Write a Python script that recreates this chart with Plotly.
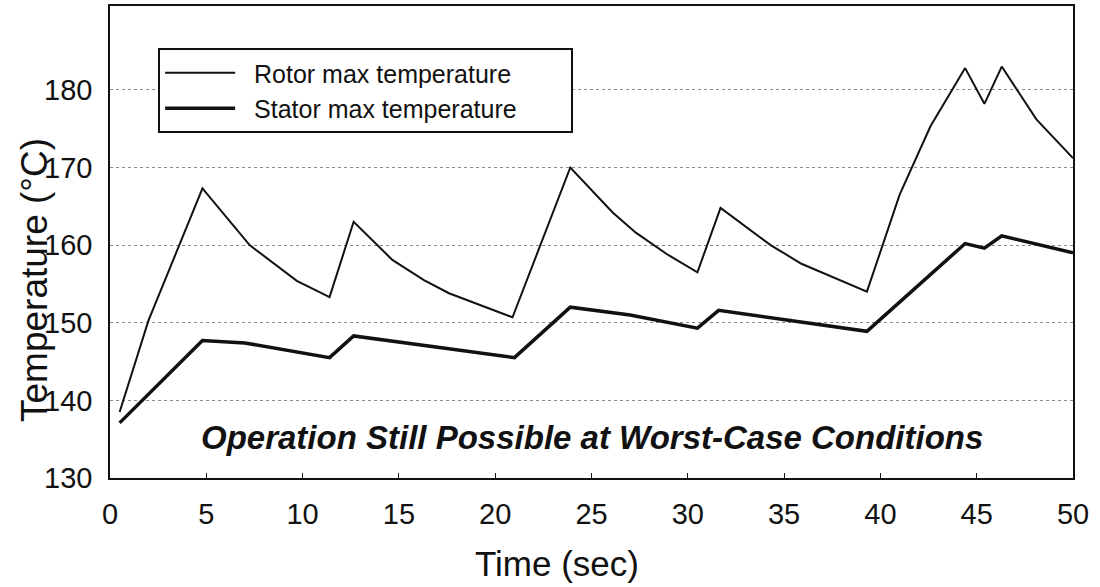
import plotly.graph_objects as go

FONT = "Liberation Sans, Arial, sans-serif"
INK = "#111111"
GRID = "#8a8a8a"
NB = "\u00a0"

# rotor max temperature (thin line)
rotor_t = [0.5, 2.0, 4.8, 7.25, 9.7, 11.4, 12.65, 14.66, 16.3, 17.6, 20.9, 23.9,
           26.1, 27.3, 29.0, 30.5, 31.7, 34.3, 35.9, 37.7, 39.3, 41.0, 42.6,
           44.4, 45.4, 46.3, 48.1, 50.0]
rotor_temp = [138.5, 150.3, 167.3, 160.0, 155.4, 153.3, 163.0, 158.1, 155.5, 153.8,
              150.7, 170.0, 164.2, 161.6, 158.7, 156.5, 164.8, 160.0, 157.6, 155.7,
              154.0, 166.5, 175.3, 182.8, 178.2, 183.0, 176.2, 171.2]

# stator max temperature (thick line)
stator_t = [0.5, 4.8, 7.0, 11.4, 12.65, 21.0, 23.9, 27.0, 30.5, 31.6, 39.3,
            44.4, 45.4, 46.3, 50.0]
stator_temp = [137.1, 147.7, 147.4, 145.5, 148.3, 145.5, 152.0, 151.0, 149.3,
               151.6, 148.9, 160.2, 159.6, 161.2, 159.0]

x_ticks = [0, 5, 10, 15, 20, 25, 30, 35, 40, 45, 50]
y_ticks = [130, 140, 150, 160, 170, 180]

fig = go.Figure()
fig.add_trace(go.Scatter(
    x=rotor_t, y=rotor_temp, mode="lines",
    name=NB * 2 + "Rotor max temperature",
    line=dict(color=INK, width=2),
))
fig.add_trace(go.Scatter(
    x=stator_t, y=stator_temp, mode="lines",
    name=NB * 2 + "Stator max temperature" + NB * 7,
    line=dict(color=INK, width=3.5),
))

fig.update_layout(
    width=1100, height=587,
    paper_bgcolor="white", plot_bgcolor="white",
    font=dict(family=FONT, color=INK),
    margin=dict(l=110, r=27, t=6, b=109),
    showlegend=True,
    legend=dict(
        x=0.05, y=0.911, xanchor="left", yanchor="top",
        bgcolor="white", bordercolor=INK, borderwidth=2,
        font=dict(size=25, family=FONT, color=INK),
        itemwidth=70, tracegroupgap=0,
    ),
    annotations=[
        dict(text="<b><i>Operation Still Possible at Worst-Case Conditions</i></b>",
             x=25.0, y=135.2, xref="x", yref="y", showarrow=False,
             xanchor="center", yanchor="middle",
             font=dict(size=33, family=FONT, color=INK)),
        dict(text="Time (sec)", x=(557 - 110) / 963, y=-(563 - 478) / 472,
             xref="paper", yref="paper", xanchor="center", yanchor="middle",
             showarrow=False, font=dict(size=35, family=FONT, color=INK)),
        dict(text="Temperature (°C)", x=-(110 - 34) / 963, y=(478 - 280) / 472,
             xref="paper", yref="paper", xanchor="center", yanchor="middle",
             textangle=-90, showarrow=False,
             font=dict(size=37, family=FONT, color=INK)),
    ],
)

fig.update_xaxes(
    range=[0, 50], tickvals=x_ticks, ticks="inside", ticklen=5, tickcolor=INK,
    showgrid=False, zeroline=False, showline=True, linecolor=INK, linewidth=1.5,
    mirror=True, tickfont=dict(size=29, family=FONT, color=INK),
    ticklabelstandoff=9, automargin=False,
)
fig.update_yaxes(
    range=[130, 190.8], tickvals=y_ticks, ticks="", showgrid=True, gridcolor=GRID,
    griddash="dot", gridwidth=1, zeroline=False, showline=True, linecolor=INK,
    linewidth=1.5, mirror=True, tickfont=dict(size=29, family=FONT, color=INK),
    ticklabelstandoff=10, automargin=False,
)

# the page body has a default 8px margin; remove it so the figure sits at 0,0
fig.write_html("out.html", config={"displayModeBar": False},
               post_script="document.body.style.margin='0';")
